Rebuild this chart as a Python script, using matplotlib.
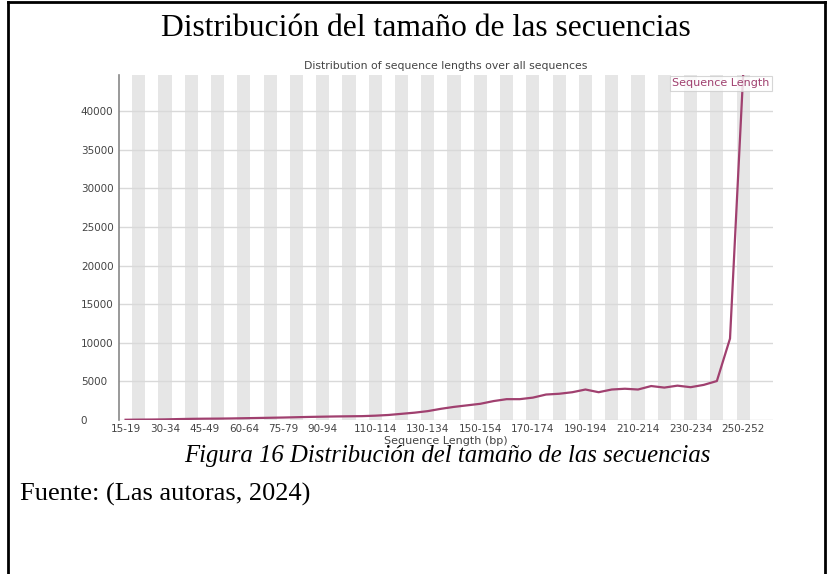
import matplotlib

matplotlib.use("Agg")
import matplotlib.pyplot as plt
from matplotlib.lines import Line2D

# length bins (bp) as shown by FastQC
bin_starts = list(range(15, 250, 5))
categories = [f"{s}-{s + 4}" for s in bin_starts] + ["250-252"]

# read counts per bin
counts = [
    30, 50, 60, 80, 120, 150, 170, 180, 200, 230,
    260, 290, 320, 360, 400, 430, 460, 480, 500, 560,
    650, 800, 950, 1150, 1450, 1700, 1900, 2100, 2450, 2700,
    2700, 2900, 3300, 3400, 3600, 3950, 3600, 3950, 4050, 3950,
    4400, 4200, 4450, 4250, 4550, 5050, 10550, 44700,
]

shown_ticks = [0, 3, 6, 9, 12, 15, 19, 23, 27, 31, 35, 39, 43, 47]
y_ticks = [0, 5000, 10000, 15000, 20000, 25000, 30000, 35000, 40000]

W, H = 833, 574
line_col = "#a0406f"
txt_col = "#444444"

fig = plt.figure(figsize=(W / 100, H / 100), dpi=100)

# plot area in pixel coordinates of the page
left, right, top, bottom = 119, 773, 75, 420
ax = fig.add_axes([left / W, 1 - bottom / H, (right - left) / W, (bottom - top) / H])

cat_px = 13.14
n = len(categories)
ax.set_xlim(-0.5, -0.5 + (right - left) / cat_px)
ax.set_ylim(0, max(counts))

for i in range(n):
    if i % 2 == 1:
        ax.axvspan(i - 0.5, i + 0.5, color="#e6e6e6", lw=0, zorder=0)

for yv in y_ticks:
    ax.axhline(yv, color="#d9d9d9", lw=1, zorder=1)

ax.plot(range(n), counts, color=line_col, lw=1.6, zorder=3, solid_joinstyle="round")

for s in ["top", "right", "bottom"]:
    ax.spines[s].set_visible(False)
ax.spines["left"].set_color("#888888")
ax.spines["left"].set_linewidth(1.2)

ax.set_yticks(y_ticks)
ax.set_yticklabels([str(v) for v in y_ticks], ha="left")
ax.set_xticks(shown_ticks)
ax.set_xticklabels([categories[i] for i in shown_ticks])
ax.tick_params(axis="both", length=0, labelsize=7.5, colors=txt_col)
ax.tick_params(axis="y", pad=27.5)
ax.tick_params(axis="x", pad=3)
ax.set_xlabel("Sequence Length (bp)", fontsize=8, color=txt_col, labelpad=1)
ax.set_title("Distribution of sequence lengths over all sequences",
             fontsize=7.8, color=txt_col, pad=4)

leg = ax.legend([Line2D([], [], lw=0)], ["Sequence Length"], loc="upper right",
                handlelength=0, handletextpad=0, fontsize=8, frameon=True,
                fancybox=False, borderpad=0.25, borderaxespad=0.05,
                labelcolor=line_col)
leg.get_frame().set_edgecolor("#cccccc")
leg.get_frame().set_linewidth(0.8)

# document frame and texts
frame_kw = dict(color="black", lw=2, transform=fig.transFigure)
fig.add_artist(Line2D([8 / W, 8 / W], [0, 1 - 1.5 / H], **frame_kw))
fig.add_artist(Line2D([825 / W, 825 / W], [0, 1 - 1.5 / H], **frame_kw))
fig.add_artist(Line2D([8 / W, 825 / W], [1 - 1.5 / H, 1 - 1.5 / H], **frame_kw))

serif = ["Liberation Serif", "DejaVu Serif"]
fig.text(426 / W, 1 - 28 / H, "Distribución del tamaño de las secuencias",
         ha="center", va="center", fontsize=22.8, family=serif)
fig.text(447 / W, 1 - 456 / H, "Figura 16 Distribución del tamaño de las secuencias",
         ha="center", va="center", fontsize=17.8, style="italic", family=serif)
fig.text(20 / W, 1 - 494 / H, "Fuente: (Las autoras, 2024)",
         ha="left", va="center", fontsize=19, family=serif)

fig.savefig("out.png", dpi=100)
